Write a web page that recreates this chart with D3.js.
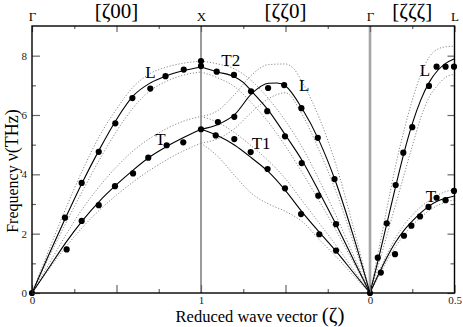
<!DOCTYPE html>
<html>

<head>
  <meta charset='utf-8'>
  <style>
    body { margin: 0; background: #fff; }
    text { font-family: 'Liberation Serif', 'Times New Roman', serif; }
  </style>
  <script src='https://cdn.jsdelivr.net/npm/d3@7/dist/d3.min.js'></script>
</head>

<body>

  <script>

    // path coordinate s: 0..1 = Γ→X [ζ00], 1..2 = X→Γ [ζζ0] (s = 2 - ζ), 2..2.5 = Γ→L [ζζζ]
    let sections = ['[ζ00]', '[ζζ0]', '[ζζζ]']
    let sectionAt = [0.5, 1.5, 2.25]
    let topLabels = { 0: 'Γ', 1: 'X', 2: 'Γ', 2.5: 'L' }
    let bottomLabels = { 0: '0', 1: '1', 2: '0', 2.5: '0.5' }
    let yMajor = [0, 2, 4, 6, 8]
    let yMinor = [1, 3, 5, 7]
    let xMajor = [0, 0.5, 1, 1.5, 2, 2.5]
    let xMinor = [0.25, 0.75, 1.25, 1.75, 2.25]

    // calculated branches (solid)
    let calcL1 = [[0, 0], [0.1, 1.3], [0.2, 2.55], [0.3, 3.75], [0.4, 4.85], [0.5, 5.85], [0.6, 6.65], [0.7, 7.08], [0.8, 7.33], [0.9, 7.5], [1, 7.62]]
    let calcT1 = [[0, 0], [0.1, 0.85], [0.2, 1.7], [0.3, 2.45], [0.4, 3.1], [0.5, 3.65], [0.6, 4.15], [0.7, 4.6], [0.8, 4.95], [0.9, 5.25], [1, 5.52]]
    let calcT2b = [[1, 7.62], [1.1, 7.45], [1.2, 7.28], [1.25, 7.1], [1.3, 6.8], [1.4, 6.15], [1.5, 5.32], [1.6, 4.45], [1.7, 3.4], [1.8, 2.3], [1.9, 1.15], [2, 0]]
    let calcLb = [[1, 5.52], [1.1, 5.68], [1.2, 6.02], [1.3, 6.72], [1.4, 7.07], [1.45, 7.08], [1.5, 6.98], [1.6, 6.2], [1.7, 5.12], [1.8, 3.7], [1.9, 1.95], [2, 0]]
    let calcT1b = [[1, 5.52], [1.1, 5.3], [1.2, 4.98], [1.3, 4.55], [1.4, 4.08], [1.5, 3.45], [1.6, 2.72], [1.7, 2.05], [1.8, 1.4], [1.9, 0.7], [2, 0]]
    let calcLc = [[2, 0], [2.05, 1.15], [2.1, 2.35], [2.15, 3.55], [2.2, 4.7], [2.25, 5.7], [2.3, 6.5], [2.35, 7.1], [2.4, 7.5], [2.45, 7.75], [2.5, 7.9]]
    let calcTc = [[2, 0], [2.05, 0.62], [2.1, 1.2], [2.15, 1.7], [2.2, 2.1], [2.25, 2.42], [2.3, 2.7], [2.35, 2.93], [2.4, 3.1], [2.45, 3.2], [2.5, 3.27]]

    // bounds (dotted)
    let boundL1Hi = [[0, 0], [0.1, 1.45], [0.2, 2.85], [0.3, 4.15], [0.4, 5.3], [0.5, 6.2], [0.6, 6.95], [0.7, 7.4], [0.8, 7.62], [0.9, 7.75], [1, 7.82]]
    let boundL1Lo = [[0, 0], [0.1, 1.2], [0.2, 2.35], [0.3, 3.45], [0.4, 4.5], [0.5, 5.45], [0.6, 6.25], [0.7, 6.82], [0.8, 7.15], [0.9, 7.35], [1, 7.45]]
    let boundT1Hi = [[0, 0], [0.1, 0.98], [0.2, 1.95], [0.3, 2.85], [0.4, 3.6], [0.5, 4.25], [0.6, 4.8], [0.7, 5.22], [0.8, 5.55], [0.9, 5.8], [1, 5.95]]
    let boundT1Lo = [[0, 0], [0.1, 0.8], [0.2, 1.55], [0.3, 2.22], [0.4, 2.8], [0.5, 3.3], [0.6, 3.75], [0.7, 4.15], [0.8, 4.5], [0.9, 4.8], [1, 5.05]]
    let boundT2bHi = [[1, 7.82], [1.1, 7.72], [1.2, 7.55], [1.3, 7.15], [1.4, 6.55], [1.5, 5.8], [1.6, 4.9], [1.7, 3.8], [1.8, 2.6], [1.9, 1.3], [2, 0]]
    let boundT2bLo = [[1, 7.45], [1.1, 7.25], [1.2, 6.95], [1.3, 6.4], [1.4, 5.75], [1.5, 4.95], [1.6, 4.05], [1.7, 3.1], [1.8, 2.1], [1.9, 1.05], [2, 0]]
    let boundLbHi = [[1, 5.95], [1.1, 6.15], [1.2, 6.7], [1.3, 7.35], [1.4, 7.7], [1.5, 7.72], [1.55, 7.55], [1.6, 7.1], [1.7, 5.9], [1.8, 4.3], [1.9, 2.25], [2, 0]]
    let boundLbLo = [[1, 5.05], [1.1, 5.2], [1.2, 5.55], [1.3, 6.1], [1.4, 6.55], [1.5, 6.75], [1.6, 6.0], [1.7, 4.8], [1.8, 3.4], [1.9, 1.75], [2, 0]]
    let boundT1bHi = [[1, 5.95], [1.1, 5.75], [1.2, 5.4], [1.3, 4.95], [1.4, 4.45], [1.5, 3.85], [1.6, 3.1], [1.7, 2.35], [1.8, 1.6], [1.9, 0.8], [2, 0]]
    let boundT1bLo = [[1, 5.05], [1.1, 4.6], [1.2, 3.95], [1.3, 3.35], [1.4, 3.0], [1.5, 2.75], [1.6, 2.4], [1.7, 1.8], [1.8, 1.22], [1.9, 0.6], [2, 0]]
    let boundLcHi = [[2, 0], [2.05, 1.4], [2.1, 2.85], [2.15, 4.25], [2.2, 5.45], [2.25, 6.5], [2.3, 7.35], [2.35, 7.95], [2.4, 8.22], [2.45, 8.3], [2.5, 8.32]]
    let boundLcLo = [[2, 0], [2.05, 0.95], [2.1, 1.95], [2.15, 2.95], [2.2, 3.95], [2.25, 4.95], [2.3, 5.9], [2.35, 6.6], [2.4, 7.0], [2.45, 7.28], [2.5, 7.37]]
    let boundTcHi = [[2, 0], [2.05, 0.68], [2.1, 1.3], [2.15, 1.85], [2.2, 2.28], [2.25, 2.62], [2.3, 2.9], [2.35, 3.12], [2.4, 3.3], [2.45, 3.42], [2.5, 3.48]]
    let boundTcLo = [[2, 0], [2.05, 0.55], [2.1, 1.08], [2.15, 1.55], [2.2, 1.95], [2.25, 2.28], [2.3, 2.55], [2.35, 2.78], [2.4, 2.95], [2.45, 3.07], [2.5, 3.14]]

    // experimental points
    let expGamma = [[0, 0], [2, 0]]
    let expL1 = [[0.195, 2.54], [0.294, 3.71], [0.395, 4.76], [0.493, 5.72], [0.594, 6.57], [0.70, 6.89], [0.79, 7.31], [0.898, 7.53], [1.0, 7.82]]
    let expT1 = [[0.205, 1.47], [0.294, 2.43], [0.395, 2.96], [0.491, 3.6], [0.598, 4.03], [0.688, 4.56], [0.797, 4.98], [0.895, 5.08], [1.0, 5.52]]
    let expT2b = [[1.0, 7.65], [1.093, 7.46], [1.195, 7.35], [1.296, 6.8], [1.392, 6.13], [1.497, 5.28], [1.596, 4.38], [1.694, 3.28], [1.799, 2.32]]
    let expLb = [[1.1, 5.76], [1.197, 5.94], [1.397, 6.91], [1.492, 7.01], [1.594, 6.23], [1.691, 5.23], [1.79, 3.84]]
    let expT1b = [[1.087, 5.31], [1.197, 5.19], [1.294, 4.75], [1.394, 4.18], [1.497, 3.53], [1.592, 2.66], [1.70, 1.98], [1.799, 1.43]]
    let expLc = [[2.046, 1.19], [2.099, 2.35], [2.152, 3.64], [2.197, 4.73], [2.25, 5.59], [2.349, 6.98], [2.394, 7.63], [2.447, 7.63], [2.497, 7.63]]
    let expTc = [[2.064, 0.69], [2.148, 1.31], [2.201, 1.93], [2.245, 2.27], [2.296, 2.58], [2.346, 2.9], [2.394, 3.21], [2.447, 3.13], [2.497, 3.44]]

    let branchLabels = [
      { t: 'L', s: 0.67, f: 7.25 }, { t: 'T', s: 0.73, f: 5.0 },
      { t: 'T2', s: 1.12, f: 7.65 }, { t: 'T1', s: 1.3, f: 4.85 },
      { t: 'L', s: 1.58, f: 6.8 }, { t: 'L', s: 2.295, f: 7.3 }, { t: 'T', s: 2.33, f: 3.08 }
    ]

    let [width, height] = [463, 327]
    let x = d3.scaleLinear([0, 2.5], [32, 454.5])
    let y = d3.scaleLinear([0, 9], [293, 26])
    let serif = "'Liberation Serif', 'Times New Roman', serif"

    let svg = d3.select('body').append('svg')
      .attr('width', width)
      .attr('height', height)
      .attr('font-family', serif)

    let line = d3.line().x(d => x(d[0])).y(d => y(d[1])).curve(d3.curveMonotoneX)

    // symmetry lines
    svg.append('line')
      .attr('x1', x(1)).attr('x2', x(1)).attr('y1', y(9)).attr('y2', y(0))
      .attr('stroke', '#666').attr('stroke-width', 1.3)
    svg.append('line')
      .attr('x1', x(2)).attr('x2', x(2)).attr('y1', y(9)).attr('y2', y(0))
      .attr('stroke', '#a6a6a6').attr('stroke-width', 2.6)

    let bounds = [boundL1Hi, boundL1Lo, boundT1Hi, boundT1Lo, boundT2bHi, boundT2bLo, boundLbHi, boundLbLo,
      boundT1bHi, boundT1bLo, boundLcHi, boundLcLo, boundTcHi, boundTcLo]
    svg.append('g')
      .attr('fill', 'none').attr('stroke', '#8a8a8a').attr('stroke-width', 1)
      .attr('stroke-dasharray', '1.2,1.8')
      .selectAll('path').data(bounds).enter().append('path')
      .attr('d', line)

    let calcs = [calcL1, calcT1, calcT2b, calcLb, calcT1b, calcLc, calcTc]
    svg.append('g')
      .attr('fill', 'none').attr('stroke', '#000').attr('stroke-width', 1.1)
      .selectAll('path').data(calcs).enter().append('path')
      .attr('d', line)

    let points = [].concat(expGamma, expL1, expT1, expT2b, expLb, expT1b, expLc, expTc)
    svg.append('g')
      .selectAll('circle').data(points).enter().append('circle')
      .attr('cx', d => x(d[0])).attr('cy', d => y(d[1])).attr('r', 3.1)
      .attr('fill', '#000')

    // axes
    let style = g => {
      g.attr('font-family', serif)
      g.select('.domain').remove()
      g.selectAll('.tick line').attr('stroke', '#666').attr('stroke-width', 1.2)
      g.selectAll('.tick text').attr('fill', '#222').attr('font-size', 11)
    }
    svg.append('g').attr('transform', `translate(${x(0)},0)`)
      .call(d3.axisLeft(y).tickValues(yMajor).tickSize(-8).tickPadding(5).tickFormat(d3.format('d'))).call(style)
    svg.append('g').attr('transform', `translate(${x(0)},0)`)
      .call(d3.axisLeft(y).tickValues(yMinor).tickSize(-4).tickFormat('')).call(style)
    svg.append('g').attr('transform', `translate(${x(2.5)},0)`)
      .call(d3.axisRight(y).tickValues(yMajor).tickSize(-7).tickFormat('')).call(style)
    svg.append('g').attr('transform', `translate(${x(2.5)},0)`)
      .call(d3.axisRight(y).tickValues(yMinor).tickSize(-4).tickFormat('')).call(style)
    svg.append('g').attr('transform', `translate(0,${y(0)})`)
      .call(d3.axisBottom(x).tickValues(xMajor).tickSize(-8).tickPadding(3).tickFormat(d => bottomLabels[d] || '')).call(style)
    svg.append('g').attr('transform', `translate(0,${y(0)})`)
      .call(d3.axisBottom(x).tickValues(xMinor).tickSize(-4).tickFormat('')).call(style)
    svg.append('g').attr('transform', `translate(0,${y(9)})`)
      .call(d3.axisTop(x).tickValues(xMajor).tickSize(-6).tickPadding(5).tickFormat(d => topLabels[d] || '')).call(style)
      .call(g => g.selectAll('.tick text').attr('font-size', 13).attr('fill', '#000'))
    svg.append('g').attr('transform', `translate(0,${y(9)})`)
      .call(d3.axisTop(x).tickValues(xMinor).tickSize(-3).tickFormat('')).call(style)

    // frame
    svg.append('rect')
      .attr('x', x(0)).attr('y', y(9)).attr('width', x(2.5) - x(0)).attr('height', y(0) - y(9))
      .attr('fill', 'none').attr('stroke', '#000').attr('stroke-width', 1.4)

    // section titles
    svg.append('g').selectAll('text').data(sections).enter().append('text')
      .attr('x', (d, i) => x(sectionAt[i])).attr('y', 18)
      .attr('text-anchor', 'middle').attr('font-size', 21)
      .text(d => d)

    svg.append('g').selectAll('text').data(branchLabels).enter().append('text')
      .attr('x', d => x(d.s)).attr('y', d => y(d.f))
      .attr('font-size', 17)
      .text(d => d.t)

    // axis titles
    let xt = svg.append('text')
      .attr('x', 260).attr('y', 322).attr('text-anchor', 'middle').attr('font-size', 16.5)
    xt.append('tspan').text('Reduced wave vector ')
    xt.append('tspan').attr('font-size', 21).text('(ζ)')

    let yt = svg.append('text')
      .attr('transform', 'translate(18,171) rotate(-90)').attr('text-anchor', 'middle').attr('font-size', 16)
    yt.append('tspan').text('Frequency ')
    yt.append('tspan').attr('font-size', 18).text('ν(THz)')
  </script>
</body>

</html>
